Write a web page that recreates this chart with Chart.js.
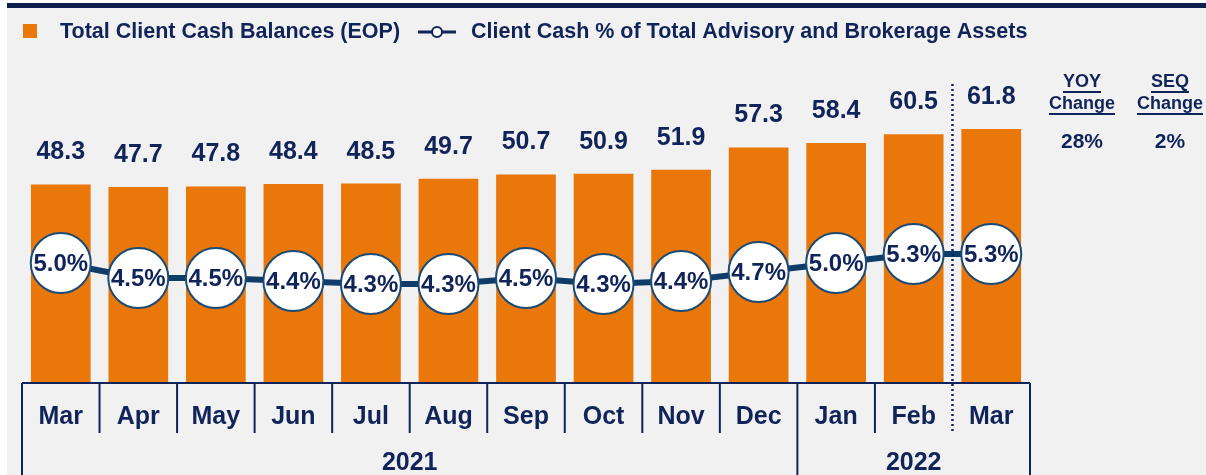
<!DOCTYPE html>
<html>
<head>
<meta charset="utf-8">
<script src="https://cdn.jsdelivr.net/npm/chart.js@4"></script>
<style>
  html, body { margin: 0; padding: 0; background: #ffffff; }
  #wrap { position: relative; width: 1206px; height: 475px; }
</style>
</head>
<body>
<div id="wrap"><canvas id="cashChart" width="1206" height="475"></canvas></div>
<script>
// Chart data
const months = ['Mar', 'Apr', 'May', 'Jun', 'Jul', 'Aug', 'Sep', 'Oct', 'Nov', 'Dec', 'Jan', 'Feb', 'Mar'];
const yearLabels = ['2021', '2022'];
const yearSpans = [10, 3];
const cashBalances = [48.3, 47.7, 47.8, 48.4, 48.5, 49.7, 50.7, 50.9, 51.9, 57.3, 58.4, 60.5, 61.8];
const cashPct = [5.0, 4.5, 4.5, 4.4, 4.3, 4.3, 4.5, 4.3, 4.4, 4.7, 5.0, 5.3, 5.3];
const seriesNames = ['Total Client Cash Balances (EOP)', 'Client Cash % of Total Advisory and Brokerage Assets'];
const changeHeaders = [['YOY', 'Change'], ['SEQ', 'Change']];
const changeValues = ['28%', '2%'];

const NAVY = '#10245a';
const ORANGE = '#e9770a';
const LINE_BLUE = '#0f3c69';
const FONT = '"Liberation Sans", Arial, sans-serif';

// Background, header bar, legend, change table
const backdrop = {
    id: 'backdrop',
    beforeDraw(chart) {
        const ctx = chart.ctx;
        ctx.save();
        ctx.fillStyle = '#ffffff';
        ctx.fillRect(0, 0, chart.width, chart.height);
        ctx.fillStyle = '#f1f1f1';
        ctx.fillRect(7, 8, chart.width - 7, chart.height - 8);
        ctx.fillStyle = '#0e1f4d';
        ctx.fillRect(7, 3, chart.width - 7, 5);
        ctx.restore();
    },
    afterDraw(chart) {
        const ctx = chart.ctx;
        ctx.save();
        // legend
        ctx.fillStyle = ORANGE;
        ctx.fillRect(23, 24, 14, 14);
        ctx.font = 'bold 21.5px ' + FONT;
        ctx.fillStyle = NAVY;
        ctx.textBaseline = 'middle';
        ctx.textAlign = 'left';
        ctx.fillText(seriesNames[0], 60, 32);
        ctx.strokeStyle = NAVY;
        ctx.lineWidth = 3;
        ctx.beginPath();
        ctx.moveTo(418, 32);
        ctx.lineTo(456, 32);
        ctx.stroke();
        ctx.beginPath();
        ctx.arc(437, 32, 5, 0, Math.PI * 2);
        ctx.fillStyle = '#ffffff';
        ctx.fill();
        ctx.lineWidth = 2;
        ctx.stroke();
        ctx.fillStyle = NAVY;
        ctx.fillText(seriesNames[1], 471, 32);

        // change table
        const cols = [1082, 1170];
        ctx.textAlign = 'center';
        cols.forEach((cx, i) => {
            ctx.font = 'bold 18px ' + FONT;
            changeHeaders[i].forEach((t, j) => {
                const y = 82 + j * 22;
                ctx.fillText(t, cx, y);
                const w = ctx.measureText(t).width;
                ctx.fillRect(cx - w / 2, y + 9, w, 2);
            });
            ctx.font = 'bold 21px ' + FONT;
            ctx.fillText(changeValues[i], cx, 142);
        });
        ctx.restore();
    }
};

// Value labels, percent labels, category axis
const annotations = {
    id: 'annotations',
    afterDatasetsDraw(chart) {
        const ctx = chart.ctx;
        const xs = chart.scales.x;
        const area = chart.chartArea;
        ctx.save();
        ctx.fillStyle = NAVY;
        ctx.textAlign = 'center';
        ctx.textBaseline = 'middle';

        // bar values
        ctx.font = 'bold 25px ' + FONT;
        chart.getDatasetMeta(0).data.forEach((bar, i) => {
            ctx.fillText(cashBalances[i].toFixed(1), bar.x, bar.y - 32);
        });

        // percent values inside circles
        ctx.font = 'bold 24px ' + FONT;
        chart.getDatasetMeta(1).data.forEach((pt, i) => {
            ctx.fillText(cashPct[i].toFixed(1) + '%', pt.x, pt.y + 1);
        });

        // axis line
        const base = area.bottom;
        ctx.strokeStyle = NAVY;
        ctx.lineWidth = 2;
        ctx.beginPath();
        ctx.moveTo(area.left, base);
        ctx.lineTo(area.right, base);
        ctx.stroke();

        const step = xs.getPixelForValue(1) - xs.getPixelForValue(0);
        const edge = i => xs.getPixelForValue(i) - step / 2;
        const yearEdges = [0];
        yearSpans.reduce((acc, n) => { yearEdges.push(acc + n); return acc + n; }, 0);

        // separators
        for (let i = 0; i <= months.length; i++) {
            const x = edge(i);
            const full = yearEdges.includes(i);
            if (i === months.length - 1) continue; // dotted divider instead
            ctx.beginPath();
            ctx.moveTo(x, base);
            ctx.lineTo(x, full ? chart.height : base + 50);
            ctx.stroke();
        }

        // dotted divider before latest month
        const dx = edge(months.length - 1);
        ctx.setLineDash([2, 3]);
        ctx.lineWidth = 2.5;
        ctx.beginPath();
        ctx.moveTo(dx, 84);
        ctx.lineTo(dx, base + 50);
        ctx.stroke();
        ctx.setLineDash([]);

        // month labels
        ctx.font = 'bold 25px ' + FONT;
        months.forEach((m, i) => {
            ctx.fillText(m, xs.getPixelForValue(i), base + 34);
        });

        // year labels
        yearLabels.forEach((y, k) => {
            const x0 = edge(yearEdges[k]);
            const x1 = edge(yearEdges[k + 1]);
            ctx.fillText(y, (x0 + x1) / 2, base + 80);
        });
        ctx.restore();
    }
};

const ctx = document.getElementById('cashChart').getContext('2d');
new Chart(ctx, {
    type: 'bar',
    data: {
        labels: months.map((m, i) => m + ' ' + (i < yearSpans[0] ? yearLabels[0] : yearLabels[1])),
        datasets: [
            {
                type: 'bar',
                label: seriesNames[0],
                data: cashBalances,
                backgroundColor: ORANGE,
                barPercentage: 0.77,
                categoryPercentage: 1.0,
                yAxisID: 'y',
                order: 1
            },
            {
                type: 'line',
                label: seriesNames[1],
                data: cashPct,
                borderColor: LINE_BLUE,
                borderWidth: 6,
                tension: 0,
                pointRadius: 30,
                pointBackgroundColor: '#ffffff',
                pointBorderColor: '#1b4a75',
                pointBorderWidth: 2,
                yAxisID: 'y2',
                order: 0
            }
        ]
    },
    options: {
        responsive: false,
        animation: false,
        layout: {
            autoPadding: false,
            padding: { left: 22, right: 176, top: 50, bottom: 92 }
        },
        scales: {
            x: { display: false },
            y: { display: false, min: 0, max: 81 },
            y2: { display: false, min: 1, max: 12.1 }
        },
        plugins: {
            legend: { display: false },
            tooltip: { enabled: false }
        }
    },
    plugins: [backdrop, annotations]
});
</script>
</body>
</html>
